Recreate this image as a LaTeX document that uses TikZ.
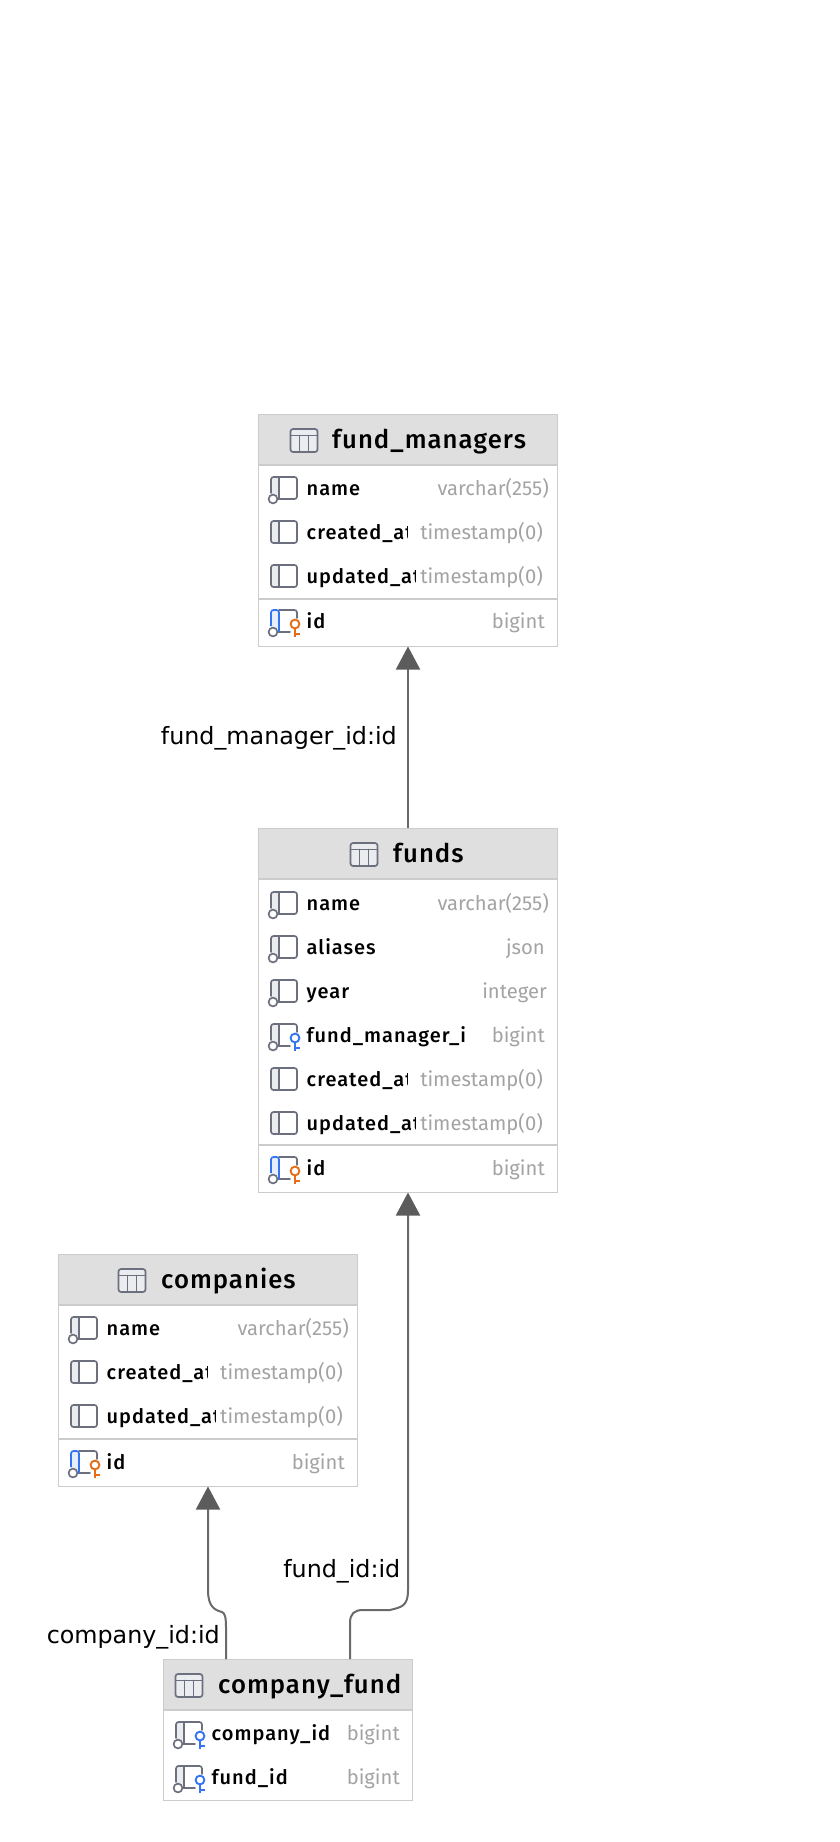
\documentclass[tikz,border=0pt]{standalone}
\usepackage{fontspec}
\setmainfont{Fira Sans}
\newfontfamily\labelfont{DejaVu Sans}
\newfontfamily\colfont[LetterSpace=5]{Fira Sans Medium}
\newfontfamily\headfont[LetterSpace=4]{Fira Sans Medium}
\usetikzlibrary{arrows.meta}
\usetikzlibrary{positioning}

\definecolor{iconGray}{HTML}{6C707E}
\definecolor{iconBlue}{HTML}{3574F0}
\definecolor{iconOrange}{HTML}{E66D17}
\definecolor{bandGray}{HTML}{EBECF0}
\definecolor{bandBlue}{HTML}{E7EFFD}
\definecolor{headGray}{HTML}{DFDFDF}
\definecolor{edgeGray}{HTML}{CCCCCC}
\definecolor{typeGray}{HTML}{A3A3A3}
\definecolor{linkGray}{HTML}{6A6A6A}

\tikzset{
  tablebox/.style={draw=edgeGray, line width=1pt, inner sep=0pt, rectangle},
  headrule/.style={draw=edgeGray, line width=2pt},
  titletext/.style={anchor=base west, inner sep=0pt, font=\headfont\fontsize{25.7}{30}\selectfont},
  colname/.style={anchor=base west, inner sep=0pt, font=\colfont\fontsize{20}{24}\selectfont},
  coltype/.style={anchor=base east, inner sep=0pt, text=typeGray, font=\fontsize{20.2}{24}\selectfont},
  linklabel/.style={anchor=base east, inner sep=0pt, font=\labelfont\fontsize{23.8}{28}\selectfont},
  link/.style={draw=linkGray, line width=2pt, -{Triangle[width=24pt,length=23pt,color=black!64]}},
  icon/.style={line width=1.7pt, iconGray, line cap=round, line join=round},
  % table glyph in the header
  tableicon/.pic={
    \fill[bandGray, rounded corners=2.5pt] (-13.5,-11.5) rectangle (13.5,11.5);
    \draw[icon, rounded corners=2.5pt] (-13.5,-11.5) rectangle (13.5,11.5);
    \draw[icon] (-13.5,-5) -- (13.5,-5) (-4.5,-5) -- (-4.5,11.5) (4.5,-5) -- (4.5,11.5);
  },
  % column glyphs, origin at the row centre
  plaincol/.pic={
    \fill[bandGray] (-13,-11) rectangle (-5,11);
    \draw[icon, rounded corners=2.5pt] (-13,-11) rectangle (13,11);
    \draw[icon] (-5,-11) -- (-5,11);
  },
  nullcol/.pic={
    \fill[bandGray] (-13,-11) rectangle (-5,8);
    \draw[icon, rounded corners=2.5pt] (-13,5) -- (-13,-11) -- (13,-11) -- (13,11) -- (-6,11);
    \draw[icon] (-5,-11) -- (-5,11);
    \draw[icon, fill=white] (-11,11) circle (4.4);
  },
  fkcol/.pic={
    \fill[bandGray] (-13,-11) rectangle (-5,8);
    \draw[icon, rounded corners=2.5pt] (-13,5) -- (-13,-11) -- (13,-11) -- (13,-3);
    \draw[icon] (-5,-11) -- (-5,11) (-6,11) -- (6,11);
    \draw[icon, fill=white] (-11,11) circle (4.4);
    \draw[line width=1.9pt, iconBlue, fill=white] (11,3) circle (4.4);
    \draw[line width=1.9pt, iconBlue] (11,7.4) -- (11,16) (11,13) -- (15.5,13);
  },
  pkcol/.pic={
    \fill[bandBlue] (-13,-11) rectangle (-5,8);
    \draw[icon, rounded corners=2.5pt] (-5,-11) -- (13,-11) -- (13,-3);
    \draw[icon] (-6,11) -- (6,11);
    \draw[line width=1.7pt, iconBlue, line join=round, rounded corners=2.5pt] (-13,5) -- (-13,-11) -- (-5,-11) -- (-5,11);
    \draw[icon, fill=white] (-11,11) circle (4.4);
    \draw[line width=1.9pt, iconOrange, fill=white] (11,3) circle (4.4);
    \draw[line width=1.9pt, iconOrange] (11,7.4) -- (11,16) (11,13) -- (15.5,13);
  },
}

% row: name, left, y, glyph, column, clip x, type, type right edge
\newcommand{\colrow}[8]{
  \pic at (#2+26,#3-1) {#4};
  \begin{scope}
    \clip (#2+48,#3-20) rectangle (#6,#3+20);
    \node[colname] (#1-col) at (#2+48.5,#3+6.5) {#5};
  \end{scope}
  \node[coltype] (#1-type) at (#8,#3+6.5) {#7};
}
% header: name, left, right, top, bottom, icon x, title x, title
\newcommand{\tablehead}[8]{
  \fill[headGray] (#2,#4) rectangle (#3,#5);
  \draw[headrule] (#2,#5) -- (#3,#5);
  \pic at (#6,#4+26) {tableicon};
  \node[titletext] (#1-title) at (#7,#4+33.5) {#8};
}

\begin{document}
\begin{tikzpicture}[x=1pt, y=-1pt]
  \useasboundingbox (0,0) rectangle (840,1842);

  % fund_managers
  \tablehead{fm}{258.5}{557.5}{414.5}{465}{304}{332}{fund\_managers}
  \node[tablebox, minimum width=299pt, minimum height=231.5pt] (fund_managers) at (408,530.25) {};
  \colrow{fmname}{258}{489}{nullcol}{name}{408}{varchar(255)}{549}
  \colrow{fmcreated}{258}{533}{plaincol}{created\_at}{407}{timestamp(0)}{543}
  \colrow{fmupdated}{258}{577}{plaincol}{updated\_at}{415}{timestamp(0)}{543}
  \draw[headrule] (258.5,599) -- (557.5,599);
  \colrow{fmid}{258}{622}{pkcol}{id}{408}{bigint}{545}

  % funds
  \tablehead{fu}{258.5}{557.5}{828.5}{879}{364}{393}{funds}
  \node[tablebox, minimum width=299pt, minimum height=363.5pt] (funds) at (408,1010.25) {};
  \colrow{funame}{258}{904}{nullcol}{name}{408}{varchar(255)}{549}
  \colrow{fualiases}{258}{948}{nullcol}{aliases}{408}{json}{545}
  \colrow{fuyear}{258}{992}{nullcol}{year}{408}{integer}{547}
  \colrow{fumanager}{258}{1036}{fkcol}{fund\_manager\_id}{467}{bigint}{545}
  \colrow{fucreated}{258}{1080}{plaincol}{created\_at}{407}{timestamp(0)}{543}
  \colrow{fuupdated}{258}{1124}{plaincol}{updated\_at}{415}{timestamp(0)}{543}
  \draw[headrule] (258.5,1145) -- (557.5,1145);
  \colrow{fuid}{258}{1169}{pkcol}{id}{408}{bigint}{545}

  % companies
  \tablehead{co}{58.5}{357.5}{1254.5}{1305}{132}{161}{companies}
  \node[tablebox, minimum width=299pt, minimum height=231.5pt] (companies) at (208,1370.25) {};
  \colrow{coname}{58}{1329}{nullcol}{name}{208}{varchar(255)}{349}
  \colrow{cocreated}{58}{1373}{plaincol}{created\_at}{207}{timestamp(0)}{343}
  \colrow{coupdated}{58}{1417}{plaincol}{updated\_at}{215}{timestamp(0)}{343}
  \draw[headrule] (58.5,1439) -- (357.5,1439);
  \colrow{coid}{58}{1463}{pkcol}{id}{208}{bigint}{345}

  % company_fund
  \tablehead{cf}{163.5}{412}{1659.5}{1710}{189}{218}{company\_fund}
  \node[tablebox, minimum width=248.5pt, minimum height=140.5pt] (company_fund) at (287.75,1729.75) {};
  \colrow{cfcompany}{163}{1734}{fkcol}{company\_id}{329}{bigint}{400}
  \colrow{cffund}{163}{1778}{fkcol}{fund\_id}{329}{bigint}{400}

  % references
  \draw[link] (funds.north) -- (fund_managers.south);
  \coordinate (fundbend) at (408,1590);
  \coordinate (companybend) at (208,1590);
  \draw[link] ([xshift=62.25pt]company_fund.north) -- (350,1623) .. controls (350,1614) and (354,1610) .. (363,1610) -- (390,1610) .. controls (402,1607) and (408,1606) .. (fundbend) -- (funds.south);
  \draw[link] ([xshift=-61.75pt]company_fund.north) -- (226,1627) .. controls (226,1618) and (225,1613) .. (222,1612) .. controls (214,1610) and (208,1606) .. (companybend) -- (companies.south);

  \node[linklabel] (fmlabel) at (397,744) {fund\_manager\_id:id};
  \node[linklabel] (fundlabel) at (400.5,1577) {fund\_id:id};
  \node[linklabel] (companylabel) at (220,1643) {company\_id:id};
\end{tikzpicture}
\end{document}
